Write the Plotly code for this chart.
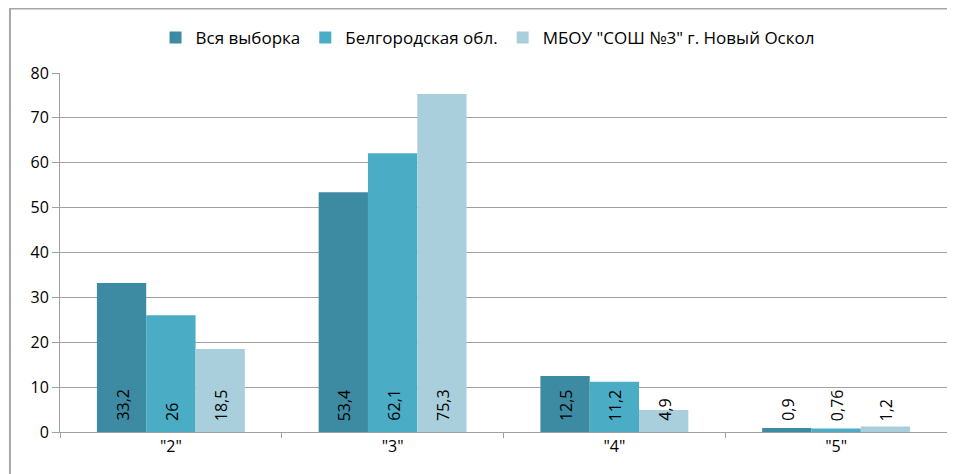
import plotly.graph_objects as go

categories = ['"2"', '"3"', '"4"', '"5"']
series_names = ["Вся выборка", "Белгородская обл.", 'МБОУ "СОШ №3" г. Новый Оскол']
vsya = [33.2, 53.4, 12.5, 0.9]
belgorod = [26, 62.1, 11.2, 0.76]
mbou = [18.5, 75.3, 4.9, 1.2]
label_vsya = ["33,2", "53,4", "12,5", "0,9"]
label_belgorod = ["26", "62,1", "11,2", "0,76"]
label_mbou = ["18,5", "75,3", "4,9", "1,2"]
y_ticks = [0, 10, 20, 30, 40, 50, 60, 70, 80]

colors = ["#3D8BA2", "#4BACC6", "#A9CFDC"]
series = [vsya, belgorod, mbou]
labels = [label_vsya, label_belgorod, label_mbou]

fig = go.Figure()
for name, vals, col in zip(series_names, series, colors):
    fig.add_trace(go.Bar(x=categories, y=vals, name=name,
                         marker=dict(color=col, line=dict(width=0))))

bargap = 0.333
bw = (1 - bargap) / 3
annotations = []
for si, labs in enumerate(labels):
    off = (si - 1) * bw
    for ci, t in enumerate(labs):
        annotations.append(dict(x=ci + off, y=0, xref="x", yref="y", text=t,
                                showarrow=False, textangle=-90,
                                xanchor="center", yanchor="bottom", yshift=9, xshift=1,
                                font=dict(family="Open Sans", size=16, color="#000")))

fig.update_layout(
    width=947, height=466,
    margin=dict(l=52, r=8, t=65, b=42),
    paper_bgcolor="white", plot_bgcolor="white",
    barmode="group", bargap=bargap, bargroupgap=0,
    font=dict(family="Open Sans", size=16, color="#000"),
    showlegend=True,
    legend=dict(orientation="h", x=0.482, xanchor="center", y=1.0975, yanchor="middle",
                font=dict(family="Open Sans", size=17, color="#000"),
                itemwidth=30, tracegroupgap=0),
    annotations=annotations,
    shapes=[dict(type="rect", xref="paper", yref="paper",
                 x0=-0.0564, x1=1.2, y0=-0.3, y1=1.1797,
                 line=dict(color="#A6A6A6", width=2), layer="below")],
)
fig.update_yaxes(range=[0, 80], tickvals=y_ticks, showgrid=True, gridcolor="#A0A0A0",
                 gridwidth=1, showline=True, linecolor="#A0A0A0", linewidth=1,
                 ticks="outside", ticklen=7, tickcolor="#A0A0A0",
                 tickfont=dict(family="Open Sans", size=16, color="#000"), zeroline=False)
fig.update_xaxes(showline=True, linecolor="#A0A0A0", linewidth=1, ticks="outside",
                 tickson="boundaries", ticklen=5, tickcolor="#A0A0A0",
                 tickfont=dict(family="Open Sans", size=16, color="#000"))

fig.write_html("out.html")
